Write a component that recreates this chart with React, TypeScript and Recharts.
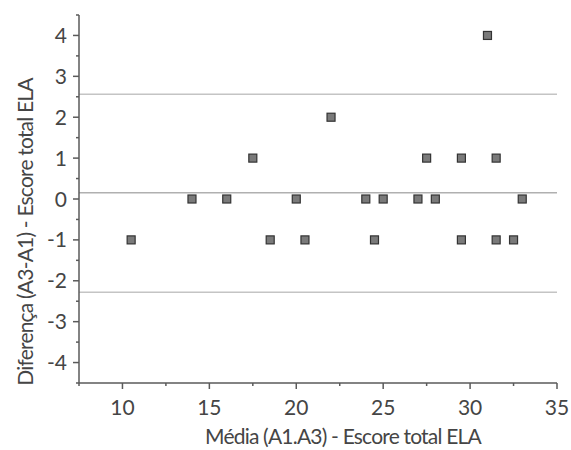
import { ScatterChart, Scatter, XAxis, YAxis, ReferenceLine } from "recharts";

const means = [10.5, 14, 16, 17.5, 18.5, 20, 20.5, 22, 24, 24.5, 25, 27, 27.5, 28, 29.5, 29.5, 31, 31.5, 31.5, 32.5, 33];
const diffs = [-1, 0, 0, 1, -1, 0, -1, 2, 0, -1, 0, 0, 1, 0, 1, -1, 4, 1, -1, -1, 0];

const xTicks = [7.5, 10, 12.5, 15, 17.5, 20, 22.5, 25, 27.5, 30, 32.5, 35];
const yTicks = [-4.5, -4, -3.5, -3, -2.5, -2, -1.5, -1, -0.5, 0, 0.5, 1, 1.5, 2, 2.5, 3, 3.5, 4, 4.5];
const yLabels = [-4, -3, -2, -1, 0, 1, 2, 3, 4];
const xLabels = [10, 15, 20, 25, 30, 35];

const upperLimit = 2.56;
const meanDiff = 0.15;
const lowerLimit = -2.28;

const data = means.map((m, i) => ({ mean: m, diff: diffs[i] }));

const FONT = "Lato, sans-serif";
const TEXT = "#454545";
const AXIS = "#5a5a5a";

const YTick = ({ x, y, payload }: any) => {
  const v = payload.value;
  const major = yLabels.includes(v);
  return (
    <g>
      <line x1={x - (major ? 6 : 3)} x2={x} y1={y} y2={y} stroke={AXIS} strokeWidth={1.5} />
      {major && (
        <text x={x - 12} y={y} dy="0.36em" textAnchor="end" fontSize={21} fontFamily={FONT} fill={TEXT}>
          {v}
        </text>
      )}
    </g>
  );
};

const XTick = ({ x, y, payload }: any) => {
  const v = payload.value;
  const major = xLabels.includes(v);
  return (
    <g>
      <line x1={x} x2={x} y1={y} y2={y + (major ? 6 : 3)} stroke={AXIS} strokeWidth={1.5} />
      {major && (
        <text x={x} y={y + 32} textAnchor="middle" fontSize={21} fontFamily={FONT} fill={TEXT}>
          {v}
        </text>
      )}
    </g>
  );
};

const Square = ({ cx, cy }: any) => (
  <rect x={cx - 4} y={cy - 4} width={8} height={8} fill="#7a7a7a" stroke="#333" strokeWidth={1.2} />
);

export default function App() {
  return (
    <div style={{ position: "absolute", left: 0, top: 0, background: "#fff" }}>
      <ScatterChart width={571} height={450} margin={{ top: 15, right: 14, left: 0, bottom: 0 }}>
        <XAxis
          type="number"
          dataKey="mean"
          domain={[7.5, 35]}
          ticks={xTicks}
          interval={0}
          height={67}
          tickSize={0}
          tickMargin={0}
          tickLine={false}
          tick={<XTick />}
          stroke={AXIS}
          strokeWidth={1.5}
          label={{
            content: ({ viewBox }: any) => (
              <text
                x={343}
                y={viewBox.y + 61}
                textAnchor="middle"
                fontSize={21}
                letterSpacing={-0.8}
                fontFamily={FONT}
                fill={TEXT}
              >
                Média (A1.A3) - Escore total ELA
              </text>
            ),
          }}
        />
        <YAxis
          type="number"
          dataKey="diff"
          domain={[-4.5, 4.5]}
          ticks={yTicks}
          interval={0}
          width={79}
          tickSize={0}
          tickMargin={0}
          tickLine={false}
          tick={<YTick />}
          stroke={AXIS}
          strokeWidth={1.5}
          label={{
            content: ({ viewBox }: any) => {
              const cx = 33;
              const cy = viewBox.y + viewBox.height / 2 + 33;
              return (
                <text
                  x={cx}
                  y={cy}
                  textAnchor="middle"
                  transform={`rotate(-90, ${cx}, ${cy})`}
                  fontSize={21}
                  letterSpacing={-0.8}
                  fontFamily={FONT}
                  fill={TEXT}
                >
                  Diferença (A3-A1) - Escore total ELA
                </text>
              );
            },
          }}
        />
        <ReferenceLine y={upperLimit} stroke="#c4c4c4" strokeWidth={1.5} />
        <ReferenceLine y={meanDiff} stroke="#b0b0b0" strokeWidth={1.5} />
        <ReferenceLine y={lowerLimit} stroke="#c4c4c4" strokeWidth={1.5} />
        <Scatter data={data} shape={<Square />} isAnimationActive={false} />
      </ScatterChart>
    </div>
  );
}
